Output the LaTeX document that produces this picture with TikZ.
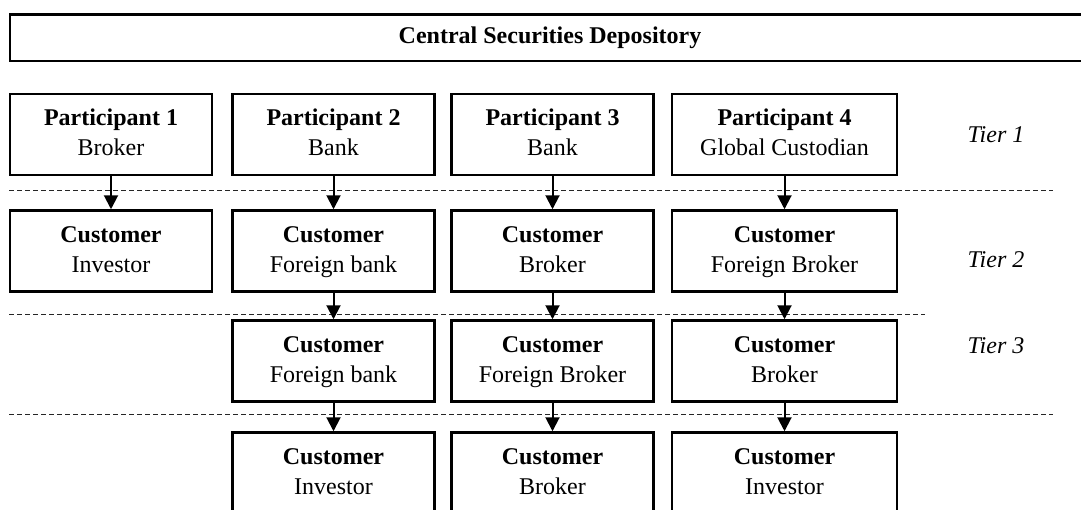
\documentclass[tikz,border=0pt]{standalone}
\usepackage{fontspec}
\setmainfont{Liberation Serif}
\usetikzlibrary{arrows.meta}

\tikzset{
    box/.style={draw, line width=2.5pt, minimum height=81pt, inner sep=0pt,
        align=center, font=\fontsize{24}{30}\selectfont},
    tier/.style={font=\fontsize{24}{30}\selectfont\itshape},
    sep/.style={line width=1pt, black!85, dash pattern=on 5pt off 3pt},
    link/.style={-{Triangle[width=14pt,length=14pt]}, line width=2pt}
}

\begin{document}
\begin{tikzpicture}[x=1pt, y=-1pt]
    \useasboundingbox (0,0) rectangle (1081,509);

    % Separadores entre niveles
    \draw[sep] (9,190) -- (1053,190);
    \draw[sep] (9,314) -- (925,314);
    \draw[sep] (9,414) -- (1053,414);

    % Depositario central
    \node[box, minimum width=1080pt, minimum height=46.5pt] (csd) at (550,37.5)
        {\textbf{Central Securities Depository}};

    % Participantes (nivel 1)
    \foreach \i/\x/\w/\r in {
        1/111/202/Broker,
        2/333.5/202/Bank,
        3/552.5/202/Bank,
        4/784.5/225/Global Custodian} {
        \node[box, minimum width=\w pt] (p\i) at (\x,134.5)
            {\textbf{Participant \i}\strut\\ \r\strut};
    }

    % Clientes (nivel 2)
    \foreach \i/\x/\w/\r in {
        1/111/202/Investor,
        2/333.5/202/Foreign bank,
        3/552.5/202/Broker,
        4/784.5/225/Foreign Broker} {
        \node[box, minimum width=\w pt] (a\i) at (\x,251)
            {\textbf{Customer}\strut\\ \r\strut};
    }

    % Clientes (nivel 3)
    \foreach \i/\x/\w/\r in {
        2/333.5/202/Foreign bank,
        3/552.5/202/Foreign Broker,
        4/784.5/225/Broker} {
        \node[box, minimum width=\w pt] (b\i) at (\x,361)
            {\textbf{Customer}\strut\\ \r\strut};
    }

    % Clientes finales
    \foreach \i/\x/\w/\r in {
        2/333.5/202/Investor,
        3/552.5/202/Broker,
        4/784.5/225/Investor} {
        \node[box, minimum width=\w pt] (c\i) at (\x,473)
            {\textbf{Customer}\strut\\ \r\strut};
    }

    % Flechas
    \foreach \i in {1,2,3,4} {
        \draw[link] (p\i) -- (a\i);
    }
    \foreach \i in {2,3,4} {
        \draw[link] (a\i) -- (b\i);
        \draw[link] (b\i) -- (c\i);
    }

    % Etiquetas de nivel
    \foreach \t/\y in {1/135, 2/260, 3/346} {
        \node[tier] (tier\t) at (996,\y) {Tier \t};
    }
\end{tikzpicture}
\end{document}
